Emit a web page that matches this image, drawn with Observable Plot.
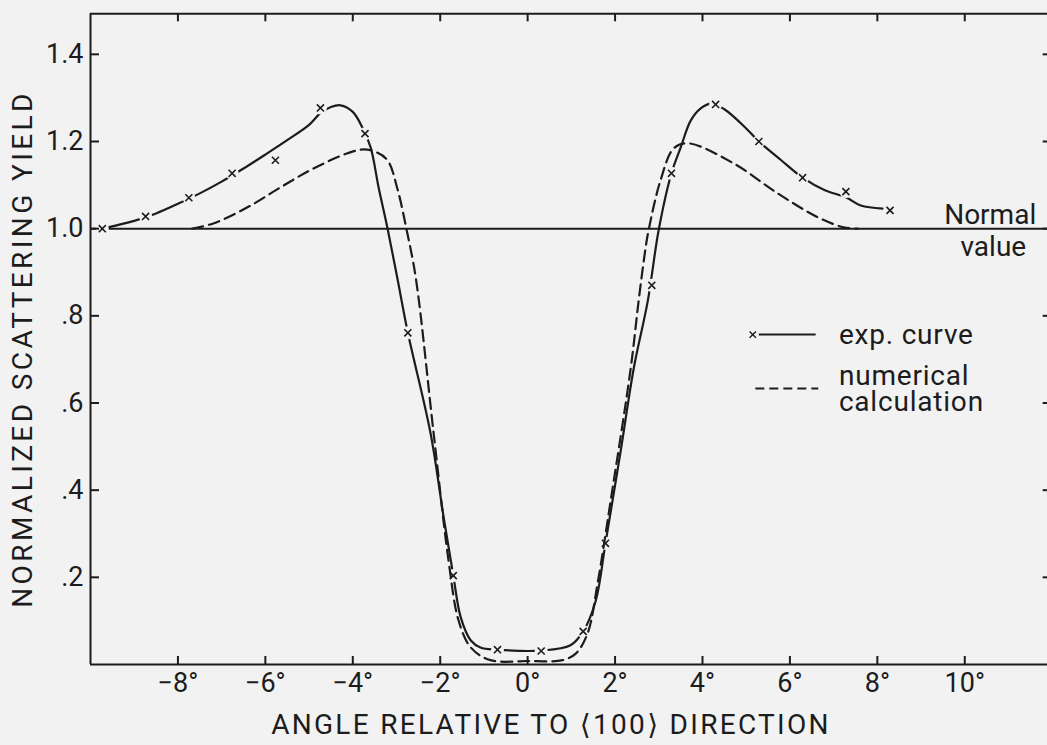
<!DOCTYPE html>
<html><head><meta charset="utf-8">
<script src="https://cdn.jsdelivr.net/npm/d3@7"></script>
<script src="https://cdn.jsdelivr.net/npm/@observablehq/plot@0.6"></script>
<style>
html,body{margin:0;padding:0;background:#f2f2f2;}
#chart svg{display:block;}
</style></head><body><div id="chart"></div>
<script>
// ---- data ----
const xTicks = [-8, -6, -4, -2, 0, 2, 4, 6, 8, 10];
const xTickLabels = ["−8°", "−6°", "−4°", "−2°", "0°", "2°", "4°", "6°", "8°", "10°"];
const yTicks = [0.2, 0.4, 0.6, 0.8, 1.0, 1.2, 1.4];
const yTickLabels = [".2", ".4", ".6", ".8", "1.0", "1.2", "1.4"];

// measured points (× markers)
const expAngle = [-9.73, -8.74, -7.75, -6.76, -5.77, -4.74, -3.72, -2.74, -1.70, -0.69, 0.31, 1.27, 1.78, 2.84, 3.29, 4.30, 5.29, 6.29, 7.28, 8.29];
const expYield = [1.000, 1.028, 1.071, 1.127, 1.157, 1.277, 1.218, 0.761, 0.204, 0.034, 0.031, 0.076, 0.278, 0.870, 1.127, 1.285, 1.200, 1.117, 1.085, 1.042];

// experimental curve (solid)
const expCurveAngle = [-9.73, -9.0, -8.5, -8.0, -7.5, -7.0, -6.5, -6.0, -5.5, -5.0, -4.74, -4.5, -4.28, -4.0, -3.78, -3.59, -3.41, -3.20, -2.97, -2.74, -2.22, -1.92, -1.70, -1.53, -1.30, -1.08, -0.69, 0.31, 0.98, 1.27, 1.56, 1.78, 2.13, 2.43, 2.75, 3.00, 3.29, 3.50, 3.73, 3.96, 4.20, 4.50, 5.00, 5.29, 5.80, 6.29, 6.80, 7.28, 7.62, 8.12];
const expCurveYield = [1.000, 1.018, 1.035, 1.057, 1.081, 1.108, 1.138, 1.170, 1.203, 1.238, 1.265, 1.279, 1.283, 1.268, 1.232, 1.186, 1.095, 0.998, 0.881, 0.761, 0.530, 0.337, 0.204, 0.108, 0.055, 0.039, 0.034, 0.032, 0.044, 0.076, 0.147, 0.278, 0.491, 0.681, 0.835, 0.998, 1.127, 1.186, 1.248, 1.276, 1.287, 1.274, 1.230, 1.200, 1.157, 1.117, 1.088, 1.072, 1.053, 1.046];

// numerical calculation (dashed)
const calcAngle = [-7.67, -7.19, -6.41, -5.65, -4.90, -4.12, -3.75, -3.45, -3.20, -2.97, -2.77, -2.56, -2.15, -1.81, -1.58, -1.30, -0.85, 0.0, 0.80, 1.10, 1.37, 1.60, 1.90, 2.36, 2.54, 2.70, 2.77, 3.04, 3.34, 3.66, 4.71, 5.72, 6.64, 7.23, 7.55];
const calcYield = [1.000, 1.012, 1.049, 1.095, 1.138, 1.173, 1.182, 1.175, 1.156, 1.088, 0.998, 0.888, 0.530, 0.239, 0.101, 0.039, 0.010, 0.008, 0.010, 0.025, 0.071, 0.186, 0.376, 0.681, 0.835, 0.957, 0.998, 1.111, 1.184, 1.196, 1.150, 1.081, 1.026, 1.003, 1.000];

const normalValue = 1.0;

// ---- build tables ----
const expPts = expAngle.map((a, i) => ({a, v: expYield[i]}));
const expCurve = expCurveAngle.map((a, i) => ({a, v: expCurveYield[i]}));
const calcCurve = calcAngle.map((a, i) => ({a, v: calcYield[i]}));

const W = 1047, H = 745;
const xDomain = [-10, 12], xRange = [90, 1051.7];
const yDomain = [0, 1.493], yRange = [664, 13.3];
const pxX = (xDomain[1] - xDomain[0]) / (xRange[1] - xRange[0]);
const pxY = (yDomain[1] - yDomain[0]) / (yRange[0] - yRange[1]);
const BG = "#f2f2f2", INK = "#1c1c1c";
const FONT = "Roboto, 'DejaVu Sans', sans-serif";

const xt = 8 * pxY;  // tick length in data units
const yt = 9 * pxX;

// legend positions (data units)
const legX0 = 5.15, legLine = [5.30, 6.60], legTextX = 7.12;
const legY1 = 0.757, legY2 = 0.633;

const xTitle = "ANGLE RELATIVE TO ⟨100⟩ DIRECTION";
const yTitle = "NORMALIZED SCATTERING YIELD";

const chart = Plot.plot({
  width: W, height: H,
  marginLeft: 90, marginTop: 13, marginBottom: 81, marginRight: 0,
  x: {domain: xDomain, range: xRange, axis: null},
  y: {domain: yDomain, range: yRange, axis: null},
  style: {background: BG, fontFamily: FONT, color: INK, overflow: "visible"},
  marks: [
    // normal value line
    Plot.ruleY([normalValue], {x1: xDomain[0], x2: xDomain[1], stroke: INK, strokeWidth: 2}),
    // experimental curve
    Plot.line(expCurve, {x: "a", y: "v", curve: "catmull-rom", stroke: INK, strokeWidth: 2.2}),
    // gaps around markers
    Plot.dot(expPts, {x: "a", y: "v", r: 6.5, fill: BG, stroke: null}),
    // numerical calculation
    Plot.line(calcCurve, {x: "a", y: "v", curve: "catmull-rom", stroke: INK, strokeWidth: 2.2, strokeDasharray: "11,6"}),
    // markers
    Plot.dot(expPts, {x: "a", y: "v", symbol: "times", r: 3.3, stroke: INK, strokeWidth: 1.6}),
    // frame
    Plot.ruleY([yDomain[0], yDomain[1]], {x1: xDomain[0], x2: xDomain[1], stroke: INK, strokeWidth: 2}),
    Plot.ruleX([xDomain[0], xDomain[1]], {y1: yDomain[0], y2: yDomain[1], stroke: INK, strokeWidth: 2}),
    // inward ticks
    Plot.ruleX(xTicks, {x: d => d, y1: yDomain[0], y2: yDomain[0] + xt, stroke: INK, strokeWidth: 2}),
    Plot.ruleX(xTicks, {x: d => d, y1: yDomain[1], y2: yDomain[1] - xt, stroke: INK, strokeWidth: 2}),
    Plot.ruleY(yTicks, {y: d => d, x1: xDomain[0], x2: xDomain[0] + yt, stroke: INK, strokeWidth: 2}),
    Plot.ruleY(yTicks, {y: d => d, x1: xDomain[1] - yt, x2: xDomain[1], stroke: INK, strokeWidth: 2}),
    // tick labels
    Plot.text(xTicks, {x: d => d, y: yDomain[0], dy: 19, text: (d, i) => xTickLabels[i], fontSize: 27, fill: INK}),
    Plot.text(yTicks, {x: xDomain[0], y: d => d, dx: -7, text: (d, i) => yTickLabels[i], textAnchor: "end", fontSize: 27, fill: INK}),
    // axis titles
    Plot.text([xTitle], {frameAnchor: "bottom", textAnchor: "middle", dy: 69, dx: -18, fontSize: 28, fill: INK}),
    Plot.text([yTitle], {frameAnchor: "left", textAnchor: "middle", dx: -67, dy: 10, rotate: -90, fontSize: 28, fill: INK}),
    // normal value label
    Plot.text(["Normal"], {x: xDomain[1], y: normalValue, dx: -16, dy: -14, textAnchor: "end", fontSize: 28, fill: INK}),
    Plot.text(["value"], {x: xDomain[1], y: normalValue, dx: -26, dy: 18, textAnchor: "end", fontSize: 28, fill: INK}),
    // legend
    Plot.dot([0], {x: legX0, y: legY1, symbol: "times", r: 3.0, stroke: INK, strokeWidth: 1.4}),
    Plot.ruleY([legY1], {x1: legLine[0], x2: legLine[1], stroke: INK, strokeWidth: 2}),
    Plot.ruleY([legY2], {x1: legX0 + 0.07, x2: legLine[1] + 0.06, stroke: INK, strokeWidth: 2, strokeDasharray: "9,5"}),
    Plot.text(["exp. curve"], {x: legTextX, y: legY1, textAnchor: "start", fontSize: 28, fill: INK}),
    Plot.text(["numerical\ncalculation"], {x: legTextX, y: legY2, dy: 1, textAnchor: "start", lineHeight: 0.93, fontSize: 28, fill: INK})
  ]
});
// letter spacing for the titles and legend text
d3.select(chart).selectAll("text").each(function() {
  const t = this.textContent;
  if (t === xTitle) this.setAttribute("letter-spacing", "2.3px");
  else if (t === yTitle) this.setAttribute("letter-spacing", "3.4px");
  else if (t.startsWith("exp.") || t.startsWith("numerical")) this.setAttribute("letter-spacing", "0.8px");
});
document.getElementById("chart").appendChild(chart);
</script>
</body></html>
